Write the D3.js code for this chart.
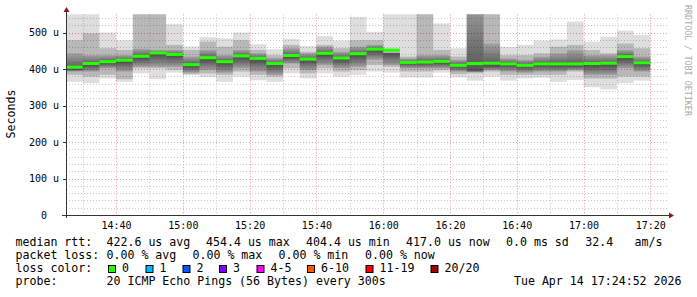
<!DOCTYPE html>
<html>
<head>
<meta charset="utf-8">
<script src="https://cdn.jsdelivr.net/npm/d3@7"></script>
<style>
  body { margin: 0; background: #fff; }
  svg { display: block; }
  text { font-family: "DejaVu Sans Mono", monospace; white-space: pre; fill: #000; }
</style>
</head>
<body>
<div id="chart"></div>
<script>
// Smoke chart, one column per 5 min step, values in microseconds
var svgWidth = 697;
var svgHeight = 297;

// step start times
var steps = ["14:25","14:30","14:35","14:40","14:45","14:50","14:55","15:00","15:05","15:10",
  "15:15","15:20","15:25","15:30","15:35","15:40","15:45","15:50","15:55","16:00",
  "16:05","16:10","16:15","16:20","16:25","16:30","16:35","16:40","16:45","16:50",
  "16:55","17:00","17:05","17:10","17:15"];

var median = [405,415,420,424,435,444,440,412,431,420,436,429,415,437,427,443,430,442,454.4,452,
  418,419,421,410,415,416,414,410,414,414,414,415,416,434,417];
var rttMax = [590,590,500,479,590,590,523,462,487,484,500,468,454,482,463,490,478,543,502,590,
  590,590,525,457,590,590,461,466,478,481,530,475,488,505,493];
var rttHi2 = [479,498,457,452,590,590,466,452,475,461,479,452,438,466,447,466,457,479,479,452,
  434,590,452,434,590,590,438,438,443,461,466,452,443,470,457];
var rttHi = [443,438,438,438,455,452,452,434,452,438,452,443,430,457,443,461,447,461,466,445,
  429,438,438,425,590,470,429,425,434,443,452,438,438,452,434];
var rttLo = [393,393,402,393,406,406,406,390,397,390,402,393,384,415,397,411,402,406,425,411,
  402,402,402,393,393,397,393,390,393,393,397,384,384,402,393];
var rttLo2 = [384,379,384,372,402,402,398,386,388,384,393,384,379,402,388,402,393,397,411,406,
  393,393,397,386,388,393,384,384,384,384,393,374,374,379,379];
var rttMin = [365,361,374,365,388,372,390,383,378,365,379,369,365,388,374,388,379,384,393,390,
  377,377,390,377,368,379,368,374,376,365,370,350,344,361,368];

var yTicks = [0,100,200,300,400,500];
var lossLabels = ["0","1","2","3","4-5","6-10","11-19","20/20"];
var lossColors = ["#26ff00","#00b8ff","#0059ff","#7e00ff","#ff00ff","#ff5a00","#ff0000","#a00000"];

var legendRtt = ["median rtt:","422.6 us avg","454.4 us max","404.4 us min","417.0 us now","0.0 ms sd","32.4","am/s"];
var legendLoss = ["packet loss:","0.00 % avg","0.00 % max","0.00 % min","0.00 % now"];
var probeText = ["probe:","20 ICMP Echo Pings (56 Bytes) every 300s","Tue Apr 14 17:24:52 2026"];

var margin = {top: 14.25, left: 66, right: 30, bottom: 82};
var plotRight = 667;
var plotBottom = 215;

function toDate(s) {
  var p = s.split(":");
  return new Date(2026, 3, 14, +p[0], +p[1]);
}

var data = steps.map(function(s, i) {
  return {t: toDate(s), med: median[i], max: rttMax[i], hi2: rttHi2[i], hi: rttHi[i],
          lo: rttLo[i], lo2: rttLo2[i], min: rttMin[i]};
});

var svg = d3.select("#chart").append("svg")
  .attr("width", svgWidth)
  .attr("height", svgHeight);

var xScale = d3.scaleTime()
  .domain([toDate("14:25"), toDate("17:25")])
  .range([margin.left, plotRight]);

var yScale = d3.scaleLinear()
  .domain([0, 550])
  .range([plotBottom, margin.top]);

var stepEnd = function(d) { return d3.timeMinute.offset(d.t, 5); };

var defs = svg.append("defs");
defs.append("clipPath").attr("id", "plotClip")
  .append("rect")
  .attr("x", margin.left).attr("y", margin.top)
  .attr("width", plotRight - margin.left).attr("height", plotBottom - margin.top);

// grid (under the smoke, smoke is translucent)
var grid = svg.append("g");
var minorY = d3.range(20, 550, 20).filter(function(v) { return v % 100 !== 0; });
grid.selectAll(".gy").data(minorY).enter().append("line")
  .attr("x1", margin.left).attr("x2", plotRight)
  .attr("y1", d => Math.round(yScale(d)) + 0.5).attr("y2", d => Math.round(yScale(d)) + 0.5)
  .attr("stroke", "#c8c8c8").attr("stroke-dasharray", "1,2");
var minorX = d3.timeMinute.every(10).range(toDate("14:25"), toDate("17:25"))
  .filter(function(d) { return d.getMinutes() % 20 !== 0; });
grid.selectAll(".gx").data(minorX).enter().append("line")
  .attr("x1", d => Math.round(xScale(d)) + 0.5).attr("x2", d => Math.round(xScale(d)) + 0.5)
  .attr("y1", margin.top).attr("y2", plotBottom)
  .attr("stroke", "#c8c8c8").attr("stroke-dasharray", "1,2");
grid.selectAll(".my").data(yTicks.slice(1)).enter().append("line")
  .attr("x1", margin.left).attr("x2", plotRight)
  .attr("y1", d => Math.round(yScale(d)) + 0.5).attr("y2", d => Math.round(yScale(d)) + 0.5)
  .attr("stroke", "#e69a9a").attr("stroke-dasharray", "1,2");
var majorX = d3.timeMinute.every(20).range(toDate("14:30"), toDate("17:25"));
grid.selectAll(".mx").data(majorX).enter().append("line")
  .attr("x1", d => Math.round(xScale(d)) + 0.5).attr("x2", d => Math.round(xScale(d)) + 0.5)
  .attr("y1", margin.top).attr("y2", plotBottom)
  .attr("stroke", "#e69a9a").attr("stroke-dasharray", "1,2");

// smoke bands
var smoke = svg.append("g").attr("clip-path", "url(#plotClip)");
var bands = [
  {top: "max", bot: "min", a: 0.13},
  {top: "hi2", bot: "lo2", a: 0.17}
];
bands.forEach(function(b) {
  smoke.selectAll(null).data(data).enter().append("rect")
    .attr("x", d => xScale(d.t))
    .attr("width", d => xScale(stepEnd(d)) - xScale(d.t))
    .attr("y", d => yScale(d[b.top]))
    .attr("height", d => yScale(d[b.bot]) - yScale(d[b.top]))
    .attr("fill", "#000")
    .attr("fill-opacity", b.a);
});

// inner band darkens towards the median
data.forEach(function(d, i) {
  var y0 = yScale(d.hi), y1 = yScale(d.lo), ym = yScale(d.med);
  var off = Math.max(0, Math.min(1, (ym - y0) / (y1 - y0)));
  var g = defs.append("linearGradient").attr("id", "core" + i)
    .attr("x1", 0).attr("x2", 0).attr("y1", 0).attr("y2", 1);
  g.append("stop").attr("offset", 0).attr("stop-color", "#000").attr("stop-opacity", 0.12);
  g.append("stop").attr("offset", off).attr("stop-color", "#000").attr("stop-opacity", 0.48);
  g.append("stop").attr("offset", Math.min(1, off + 0.12)).attr("stop-color", "#000").attr("stop-opacity", 0.55);
  g.append("stop").attr("offset", 1).attr("stop-color", "#000").attr("stop-opacity", 0.14);
});
smoke.selectAll(null).data(data).enter().append("rect")
  .attr("x", d => xScale(d.t))
  .attr("width", d => xScale(stepEnd(d)) - xScale(d.t))
  .attr("y", d => yScale(d.hi))
  .attr("height", d => yScale(d.lo) - yScale(d.hi))
  .attr("fill", (d, i) => "url(#core" + i + ")");

// median (loss 0 -> green)
smoke.selectAll(null).data(data).enter().append("rect")
  .attr("x", d => xScale(d.t))
  .attr("width", d => xScale(stepEnd(d)) - xScale(d.t))
  .attr("y", d => yScale(d.med) - 1.5)
  .attr("height", 3)
  .attr("fill", lossColors[0]);

// axes
var axisColor = "#333";
var arrowColor = "#8b1a1a";
svg.append("line")
  .attr("x1", margin.left + 0.5).attr("x2", margin.left + 0.5)
  .attr("y1", plotBottom + 3).attr("y2", 11)
  .attr("stroke", axisColor);
svg.append("line")
  .attr("x1", margin.left - 4).attr("x2", plotRight + 3)
  .attr("y1", plotBottom + 0.5).attr("y2", plotBottom + 0.5)
  .attr("stroke", axisColor);
svg.append("path")
  .attr("d", `M${margin.left + 0.5},7 L${margin.left + 3.5},12 L${margin.left - 2.5},12 Z`)
  .attr("fill", arrowColor);
svg.append("path")
  .attr("d", `M${plotRight + 7},${plotBottom + 0.5} L${plotRight + 2},${plotBottom - 2.5} L${plotRight + 2},${plotBottom + 3.5} Z`)
  .attr("fill", arrowColor);

// y ticks and labels
svg.selectAll(".yt").data(yTicks).enter().append("line")
  .attr("x1", margin.left - 3).attr("x2", margin.left)
  .attr("y1", d => Math.round(yScale(d)) + 0.5).attr("y2", d => Math.round(yScale(d)) + 0.5)
  .attr("stroke", axisColor);
svg.selectAll(".yl").data(yTicks).enter().append("text")
  .attr("x", 59)
  .attr("y", d => yScale(d))
  .attr("dy", "0.35em")
  .attr("text-anchor", "end")
  .attr("font-size", "10px")
  .text(d => d === 0 ? "0  " : d + " u");

// x labels
svg.selectAll(".xl").data(majorX).enter().append("text")
  .attr("x", d => xScale(d) + 0.5)
  .attr("y", 228.5)
  .attr("text-anchor", "middle")
  .attr("font-size", "10px")
  .text(d => d3.timeFormat("%H:%M")(d));

// axis title
svg.append("text")
  .attr("transform", "translate(15, 114) rotate(-90)")
  .attr("text-anchor", "middle")
  .attr("font-size", "11.6px")
  .text("Seconds");

// credit
svg.append("text")
  .attr("transform", "translate(685, 5) rotate(90)")
  .attr("font-size", "8.4px")
  .style("fill", "#aaa")
  .text("RRDTOOL / TOBI OETIKER");

// legend
var legendFont = "11.6px";
var rttX = [15.5, 106.5, 206, 306, 406, 506, 585.3, 634.5];
svg.selectAll(".l1").data(legendRtt).enter().append("text")
  .attr("x", (d, i) => rttX[i]).attr("y", 245.5)
  .attr("font-size", legendFont).text(d => d);

var lossX = [15.5, 106.5, 192.5, 278.5, 365];
svg.selectAll(".l2").data(legendLoss).enter().append("text")
  .attr("x", (d, i) => lossX[i]).attr("y", 258.8)
  .attr("font-size", legendFont).text(d => d);

svg.append("text").attr("x", 15.5).attr("y", 272.1)
  .attr("font-size", legendFont).text("loss color:");
var boxX = [108, 145.5, 182.5, 219, 256.5, 307, 365.5, 430.5];
var lossItem = svg.selectAll(".li").data(lossLabels).enter().append("g");
lossItem.append("rect")
  .attr("x", (d, i) => boxX[i] + 0.5).attr("y", 265.5)
  .attr("width", 7).attr("height", 7)
  .attr("fill", (d, i) => lossColors[i])
  .attr("stroke", "#000");
lossItem.append("text")
  .attr("x", (d, i) => boxX[i] + 14).attr("y", 272.1)
  .attr("font-size", legendFont).text(d => d);

svg.append("text").attr("x", 15.5).attr("y", 285.4)
  .attr("font-size", legendFont).text(probeText[0]);
svg.append("text").attr("x", 106.5).attr("y", 285.4)
  .attr("font-size", legendFont).text(probeText[1]);
svg.append("text").attr("x", 681.5).attr("y", 285.4)
  .attr("text-anchor", "end")
  .attr("font-size", legendFont).text(probeText[2]);
</script>
</body>
</html>
